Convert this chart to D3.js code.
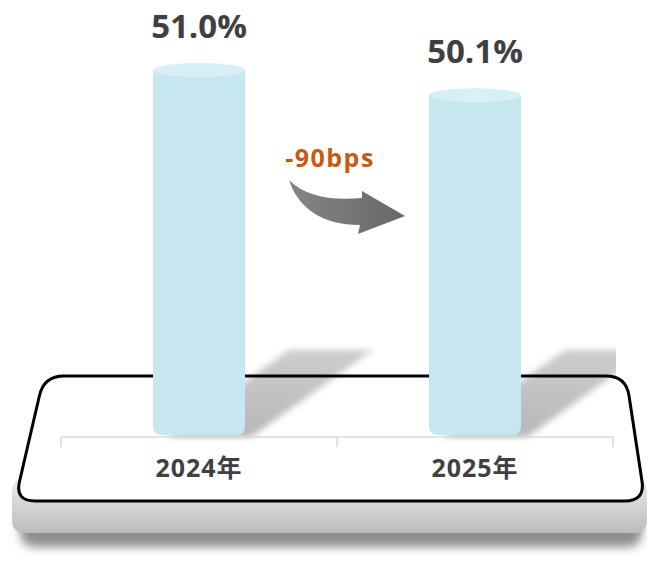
<!DOCTYPE html>
<html>
<head>
<meta charset="utf-8">
<script src="https://cdn.jsdelivr.net/npm/d3@7"></script>
<style>
  body { margin: 0; background: #fff; }
  text { font-family: "Open Sans", "Noto Sans CJK SC", sans-serif; font-weight: bold; }
</style>
</head>
<body>
<script>
// data
var years = ["2024年", "2025年"];
var shares = [51.0, 50.1];
var shareLabels = ["51.0%", "50.1%"];
var changeLabel = "-90bps";

var width = 647, height = 564;

var svg = d3.select("body").append("svg")
    .attr("width", width)
    .attr("height", height);

var defs = svg.append("defs");

var blur = defs.append("filter").attr("id", "blur")
    .attr("x", "-20%").attr("y", "-20%").attr("width", "140%").attr("height", "140%");
blur.append("feGaussianBlur").attr("stdDeviation", 3);

var slabShadow = defs.append("filter").attr("id", "slabShadow")
    .attr("x", "-10%").attr("y", "-30%").attr("width", "120%").attr("height", "180%");
slabShadow.append("feGaussianBlur").attr("stdDeviation", 5);

var slabGrad = defs.append("linearGradient").attr("id", "slabGrad")
    .attr("x1", 0).attr("y1", 0).attr("x2", 0).attr("y2", 1);
slabGrad.append("stop").attr("offset", "0%").attr("stop-color", "#eeeeee");
slabGrad.append("stop").attr("offset", "45%").attr("stop-color", "#d6d6d6");
slabGrad.append("stop").attr("offset", "100%").attr("stop-color", "#bcbcbc");

var shadowGrad = defs.append("linearGradient").attr("id", "shadowGrad")
    .attr("x1", 0).attr("y1", 1).attr("x2", 0).attr("y2", 0);
shadowGrad.append("stop").attr("offset", "0%").attr("stop-color", "#b0b0b0").attr("stop-opacity", 0.9);
shadowGrad.append("stop").attr("offset", "100%").attr("stop-color", "#c8c8c8").attr("stop-opacity", 0.9);

var arrowGrad = defs.append("linearGradient").attr("id", "arrowGrad")
    .attr("x1", 0).attr("y1", 0).attr("x2", 1).attr("y2", 0);
arrowGrad.append("stop").attr("offset", "0%").attr("stop-color", "#858585");
arrowGrad.append("stop").attr("offset", "100%").attr("stop-color", "#686868");

defs.append("clipPath").attr("id", "shadowClip")
  .append("rect").attr("x", 0).attr("y", 0).attr("width", 616).attr("height", height);

// scales
var x = d3.scaleBand().domain(years).range([61, 613]).padding(0);
var y = d3.scaleLinear().domain([38, 51]).range([435, 70]);
var barW = x.bandwidth() / 3;
var base = y.domain()[0];

// platform slab (grey base)
svg.append("rect")
    .attr("x", 20).attr("y", 505).attr("width", 622).attr("height", 42)
    .attr("rx", 14)
    .attr("fill", "#8f8f8f")
    .attr("filter", "url(#slabShadow)");
svg.append("rect")
    .attr("x", 12).attr("y", 478).attr("width", 635).attr("height", 55)
    .attr("rx", 12)
    .attr("fill", "url(#slabGrad)");

// platform top (rounded trapezoid)
function roundedPoly(pts, r) {
  var n = pts.length, p = d3.path();
  for (var i = 0; i < n; i++) {
    var a = pts[(i + n - 1) % n], b = pts[i], c = pts[(i + 1) % n];
    var d1 = Math.hypot(a[0] - b[0], a[1] - b[1]);
    var d2 = Math.hypot(c[0] - b[0], c[1] - b[1]);
    var p1 = [b[0] + (a[0] - b[0]) * r / d1, b[1] + (a[1] - b[1]) * r / d1];
    var p2 = [b[0] + (c[0] - b[0]) * r / d2, b[1] + (c[1] - b[1]) * r / d2];
    if (i === 0) p.moveTo(p1[0], p1[1]); else p.lineTo(p1[0], p1[1]);
    p.quadraticCurveTo(b[0], b[1], p2[0], p2[1]);
  }
  p.closePath();
  return p.toString();
}
var platPts = [[44, 376], [626, 376], [645, 501], [15, 501]];
var platPath = roundedPoly(platPts, 20);

svg.append("path").attr("d", platPath).attr("fill", "#fff");

// diagonal shadows cast by the bars
var shadowG = svg.append("g").attr("clip-path", "url(#shadowClip)");
shadowG.selectAll("path")
  .data(years)
  .enter().append("path")
    .attr("d", function (d) {
      var x0 = x(d) + (x.bandwidth() - barW) / 2;
      var yb = y(base);
      var l = x0 + barW * 0.15, r = x0 + barW + 6;
      return "M" + l + "," + (yb + 2) + "L" + r + "," + (yb + 2) +
             "L" + (r + 122) + "," + (yb - 85) + "L" + (l + 122) + "," + (yb - 85) + "Z";
    })
    .attr("fill", "url(#shadowGrad)")
    .attr("filter", "url(#blur)");

svg.append("path").attr("d", platPath)
    .attr("fill", "none")
    .attr("stroke", "#000")
    .attr("stroke-width", 3);

// axis
var axis = svg.append("g").attr("transform", "translate(0," + 437 + ")");
axis.append("line")
    .attr("x1", x.range()[0]).attr("x2", x.range()[1])
    .attr("stroke", "#d9d9d9").attr("stroke-width", 1.5);
axis.selectAll("line.tick")
  .data(years.concat([null]))
  .enter().append("line")
    .attr("class", "tick")
    .attr("x1", function (d, i) { return i < years.length ? x(d) : x.range()[1]; })
    .attr("x2", function (d, i) { return i < years.length ? x(d) : x.range()[1]; })
    .attr("y1", 0).attr("y2", 10)
    .attr("stroke", "#d9d9d9").attr("stroke-width", 1.5);
axis.selectAll("text")
  .data(years)
  .enter().append("text")
    .attr("x", function (d) { return x(d) + x.bandwidth() / 2; })
    .attr("y", 40)
    .attr("text-anchor", "middle")
    .attr("font-size", 25)
    .attr("letter-spacing", 1)
    .attr("fill", "#404040")
    .text(function (d) { return d; });

// bars (cylinders)
var bars = svg.selectAll("g.bar")
  .data(years)
  .enter().append("g").attr("class", "bar");

bars.append("path")
    .attr("d", function (d, i) {
      var x0 = x(d) + (x.bandwidth() - barW) / 2;
      var yt = y(shares[i]), yb = y(base), r = 9;
      return "M" + x0 + "," + yt + "L" + (x0 + barW) + "," + yt +
             "L" + (x0 + barW) + "," + (yb - r) +
             "Q" + (x0 + barW) + "," + yb + " " + (x0 + barW - r) + "," + yb +
             "L" + (x0 + r) + "," + yb +
             "Q" + x0 + "," + yb + " " + x0 + "," + (yb - r) + "Z";
    })
    .attr("fill", "#c7e7f0");

bars.append("ellipse")
    .attr("cx", function (d) { return x(d) + x.bandwidth() / 2; })
    .attr("cy", function (d, i) { return y(shares[i]); })
    .attr("rx", barW / 2)
    .attr("ry", 7)
    .attr("fill", "#d8eff6");

bars.append("text")
    .attr("x", function (d) { return x(d) + x.bandwidth() / 2; })
    .attr("y", function (d, i) { return y(shares[i]) - 32; })
    .attr("text-anchor", "middle")
    .attr("font-size", 33)
    .attr("fill", "#404040")
    .text(function (d, i) { return shareLabels[i]; });

// change arrow
svg.append("path")
    .attr("d", "M289,180 C305,196 330,201 362,198 L362,191 L405,216 L358,234 L360,225 C322,225 298,208 289,180 Z")
    .attr("fill", "url(#arrowGrad)");

svg.append("text")
    .attr("x", 330).attr("y", 167)
    .attr("text-anchor", "middle")
    .attr("font-size", 25)
    .attr("letter-spacing", 1.5)
    .attr("fill", "#c55a11")
    .text(changeLabel);
</script>
</body>
</html>
